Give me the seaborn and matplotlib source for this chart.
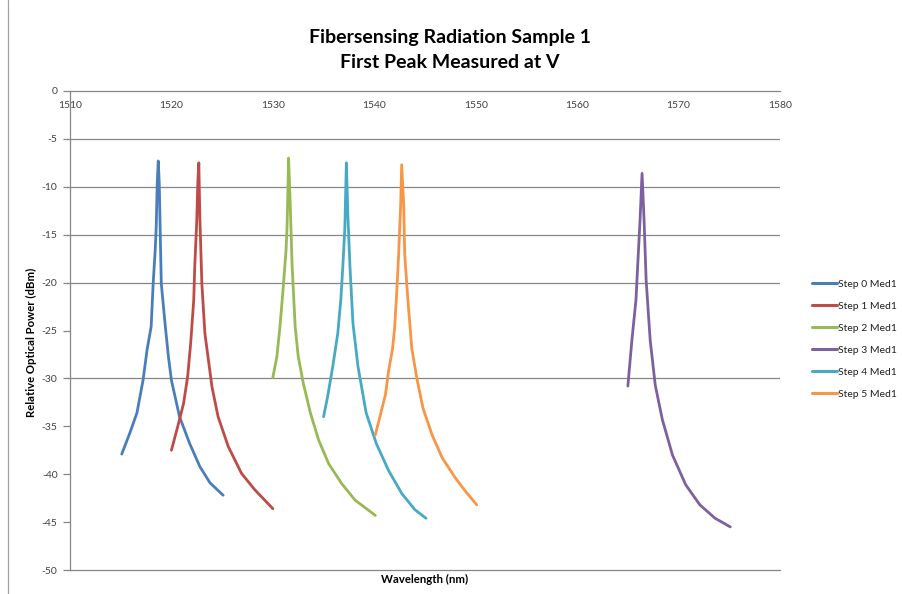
import matplotlib
matplotlib.use("Agg")
import matplotlib.pyplot as plt
from matplotlib.lines import Line2D
import seaborn as sns
import pandas as pd

title = "Fibersensing Radiation Sample 1\nFirst Peak Measured at V"
xlabel = "Wavelength (nm)"
ylabel = "Relative Optical Power (dBm)"

series_names = ["Step 0 Med1", "Step 1 Med1", "Step 2 Med1",
                "Step 3 Med1", "Step 4 Med1", "Step 5 Med1"]

step0_x = [1515.1, 1515.9, 1516.6, 1517.2, 1517.6, 1518.0, 1518.2, 1518.4, 1518.5, 1518.6, 1518.7,
           1518.8, 1518.9, 1519.0, 1519.4, 1519.7, 1520.0, 1520.8, 1521.8, 1522.8, 1523.8, 1525.1]
step0_y = [-37.9, -35.7, -33.6, -30.2, -27.0, -24.6, -20.1, -16.6, -14.2, -9.6, -7.3,
           -9.6, -14.9, -20.1, -24.6, -27.7, -30.2, -34.0, -36.8, -39.2, -40.9, -42.2]

step1_x = [1520.0, 1520.7, 1521.2, 1521.6, 1521.9, 1522.2, 1522.3, 1522.5, 1522.6, 1522.7,
           1522.8, 1523.0, 1523.3, 1524.0, 1524.6, 1525.6, 1526.9, 1528.2, 1530.0]
step1_y = [-37.5, -34.7, -32.6, -29.8, -26.3, -21.8, -18.3, -13.5, -9.6, -7.5,
           -13.1, -20.1, -25.3, -30.9, -34.0, -37.1, -39.9, -41.6, -43.6]

step2_x = [1530.0, 1530.4, 1530.7, 1531.0, 1531.3, 1531.4, 1531.5, 1531.55,
           1531.7, 1531.9, 1532.2, 1532.5, 1533.0, 1533.7, 1534.5, 1535.5, 1536.8, 1538.1, 1540.1]
step2_y = [-29.9, -27.7, -24.6, -20.8, -16.6, -14.2, -9.6, -7.0,
           -11.4, -18.3, -24.6, -27.7, -30.5, -33.6, -36.4, -38.9, -41.0, -42.7, -44.3]

step3_x = [1565.0, 1565.4, 1565.8, 1566.0, 1566.2, 1566.4,
           1566.6, 1566.8, 1567.2, 1567.7, 1568.4, 1569.4, 1570.7, 1572.1, 1573.6, 1575.1]
step3_y = [-30.8, -26.0, -21.8, -17.6, -13.5, -8.6,
           -13.5, -19.7, -26.0, -30.7, -34.3, -38.0, -41.1, -43.2, -44.6, -45.5]

step4_x = [1535.0, 1535.4, 1535.9, 1536.4, 1536.7, 1536.9, 1537.1, 1537.2, 1537.25,
           1537.4, 1537.6, 1537.9, 1538.4, 1539.2, 1540.2, 1541.4, 1542.7, 1544.0, 1545.1]
step4_y = [-34.0, -31.9, -28.8, -25.3, -21.8, -18.3, -14.2, -9.6, -7.5,
           -13.1, -18.3, -24.3, -28.8, -33.6, -36.8, -39.6, -42.0, -43.7, -44.6]

step5_x = [1540.1, 1540.6, 1541.1, 1541.4, 1541.8, 1542.0, 1542.2, 1542.4, 1542.6, 1542.7,
           1542.9, 1543.0, 1543.3, 1543.7, 1544.2, 1544.8, 1545.7, 1546.7, 1548.0, 1549.0, 1550.1]
step5_y = [-35.9, -33.8, -31.7, -29.3, -26.9, -24.8, -21.3, -17.1, -11.9, -7.7,
           -11.9, -17.1, -21.6, -26.9, -30.0, -33.1, -35.9, -38.3, -40.4, -41.8, -43.2]

x_ticks = [1510, 1520, 1530, 1540, 1550, 1560, 1570, 1580]
y_ticks = [0, -5, -10, -15, -20, -25, -30, -35, -40, -45, -50]
y_tick_labels = ["0", "-5", "-10", "-15", "-20", "-25", "-30", "-35", "-40", "-45", "-50"]
grid_levels = [-5, -10, -15, -20, -30]

colors = ["#4A7EBB", "#BE4B48", "#98B954", "#7D60A0", "#46AAC5", "#F79646"]

xs = [step0_x, step1_x, step2_x, step3_x, step4_x, step5_x]
ys = [step0_y, step1_y, step2_y, step3_y, step4_y, step5_y]
frames = []
for name, xv, yv in zip(series_names, xs, ys):
    frames.append(pd.DataFrame({"Wavelength": xv, "Power": yv, "Series": name}))
df = pd.concat(frames, ignore_index=True)

sns.set_theme(style="white")
plt.rcParams['font.family'] = ['Lato', 'DejaVu Sans']

fig = plt.figure(figsize=(9.03, 5.94), dpi=100)
ax = fig.add_axes([70 / 903, 1 - 570 / 594, 710 / 903, 479 / 594])

for lvl in grid_levels:
    ax.axhline(lvl, color="#868686", lw=0.9, zorder=1)

sns.lineplot(data=df, x="Wavelength", y="Power", hue="Series", hue_order=series_names,
             palette=dict(zip(series_names, colors)), sort=False, estimator=None,
             units="Series", lw=2.0, ax=ax, legend=False, zorder=3)

ax.set_xlim(1510, 1580)
ax.set_ylim(-50, 0)

ax.xaxis.tick_top()
ax.set_xticks(x_ticks)
ax.set_xticklabels([str(t) for t in x_ticks])
ax.tick_params(axis="x", length=0, pad=-14, labelsize=7.5, labelcolor="#404040")
ax.set_yticks(y_ticks)
ax.set_yticklabels(y_tick_labels)
ax.tick_params(axis="y", direction="out", length=5, width=0.9, color="#868686",
               pad=4, labelsize=7.5, labelcolor="#404040", left=True)

for side in ["left", "top", "bottom"]:
    ax.spines[side].set_visible(True)
    ax.spines[side].set_color("#868686")
    ax.spines[side].set_linewidth(0.9)
ax.spines["right"].set_visible(False)

ax.set_xlabel("")
ax.set_ylabel("")
fig.text(425 / 903, 1 - 579 / 594, xlabel, ha="center", va="center",
         fontsize=8.2, fontweight="bold", color="#000000")
fig.text(31 / 903, 1 - 342 / 594, ylabel, ha="center", va="center", rotation=90,
         fontsize=8.2, fontweight="bold", color="#000000")
fig.text(450 / 903, 1 - 50 / 594, title, ha="center", va="center",
         fontsize=14, fontweight="bold", linespacing=1.5, color="#000000")

handles = [Line2D([0], [0], color=c, lw=2.2) for c in colors]
leg = fig.legend(handles, series_names, loc="upper left",
                 bbox_to_anchor=(805 / 903, 1 - 272 / 594), frameon=False,
                 fontsize=7.5, handlelength=2.4, handletextpad=0.1, labelspacing=1.22,
                 borderpad=0.2)
for t in leg.get_texts():
    t.set_color("#202020")

fig.add_artist(Line2D([8 / 903, 8 / 903], [0, 1], color="#A0A0A0", lw=0.9))

fig.savefig("out.png", dpi=100)
